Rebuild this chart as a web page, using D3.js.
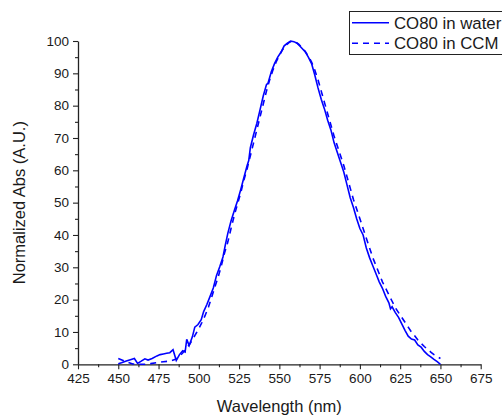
<!DOCTYPE html>
<html>
<head>
<meta charset="utf-8">
<script src="https://cdn.jsdelivr.net/npm/d3@7"></script>
<style>
  html, body { margin: 0; padding: 0; background: #fff; }
  svg { display: block; font-family: Arial, "Liberation Sans", sans-serif; }
</style>
</head>
<body>
<svg id="chart" width="502" height="420"></svg>
<script>
// ---- Data ----
const seriesNames = ["CO80 in water", "CO80 in CCM"];

const waterWl  = [450,452,455,458,460,462,464,466.5,468.5,471,474,476,478,480,482,484,486,488,490,491.5,492.5,494,496,497.5,499.5,501.5,503,505,507,509,511,513,515,516.5,518,520,522,524,526,528,530,531,532,534,536,538,540,542,543,545,547,549,551,553,555,557,559,561,563,566,568,570,572,574,576,578,580,582,584,586,588,590,592,594,596,598,600,602,604,606,608,610,612,614,616,618,619,620,622,624,626,628,630,632,634,636,638,640,642,644,646,648,650];
const waterAbs = [0.2,0.5,1.0,1.5,1.8,0.3,0.9,1.7,1.3,1.8,2.6,3.0,3.2,3.4,3.6,4.5,1.2,3.0,4.2,3.8,7.7,5.8,8.5,11.5,12.3,13.8,16.3,18.5,21,23.6,27.5,30.2,33.2,37,40.5,44.3,47.5,50.5,54,57.8,61.5,63,67,71,74.5,78.7,83,86.5,87,90.5,93,95,96.5,98.5,99.3,100,99.8,99.3,98.3,96.7,95,93,89.5,85.5,82,79,75.5,72.5,68.5,65.5,62.5,59.5,55.5,51.5,48.5,45,42,40,36,33,30.5,28,25.5,23.5,21,19,17.2,17.8,16,14.5,12.5,10.5,8.7,7.8,7.5,6,5.3,4,3,2.3,1.5,0.8,0];

const ccmWl  = [450,453,456,459,462,466,470,474,478,482,486,488,490,492,494,496,498,500,502,504,506,508,510,512,514,516,518,520,522,524,526,528,530,532,534,536,538,540,542,544,546,548,550,552,554,556,558,560,562,564,566,568,570,572,574,576,578,580,582,584,586,588,590,592,594,596,598,600,602,604,606,608,610,612,614,616,618,620,622,624,626,628,630,632,634,636,638,640,642,644,646,648,650];
const ccmAbs = [1.8,1.2,0.6,0.1,0,0,0.2,0.5,0.8,1.0,1.6,2.5,3.5,4.8,6.0,7.5,9.3,11,13,15.2,17.7,20.8,24,27,30.5,34.5,37.8,42,46,49.5,53,57,60.5,64.5,68.5,72.5,76.5,80.5,84.5,88,91,93.5,95.5,97.3,98.6,99.5,100,99.7,99,98,96.8,95.3,93.5,91,88,84.5,81,77.5,74,70.5,67.5,64.5,61.5,58,54.5,51,48,45,42,39,36,33,30.5,28,25.5,23.5,21.5,19.5,17.5,16,14.5,13,11.5,10,8.8,7.5,6.5,5.5,4.6,3.8,3.0,2.4,1.8];

const xTicks = [425,450,475,500,525,550,575,600,625,650,675];
const yTicks = [0,10,20,30,40,50,60,70,80,90,100];
const xMinor = [437.5,462.5,487.5,512.5,537.5,562.5,587.5,612.5,637.5,662.5];
const yMinor = [5,15,25,35,45,55,65,75,85,95];

// ---- Layout ----
const svg = d3.select("#chart");
const mLeft = 78, mRight = 480.7, mTop = 41, mBottom = 364.3;
const axisColor = "#222";
const textColor = "#1a1a1a";
const lineColor = "#0000ff";
const dash = "6,5";

const x = d3.scaleLinear().domain([425, 675]).range([mLeft, mRight]);
const y = d3.scaleLinear().domain([0, 100]).range([mBottom, mTop]);

// Axes
const xAxis = svg.append("g").attr("transform", `translate(0,${mBottom})`)
  .call(d3.axisBottom(x).tickValues(xTicks).tickSize(5).tickSizeOuter(0).tickPadding(4));
const xAxisMinor = svg.append("g").attr("transform", `translate(0,${mBottom})`)
  .call(d3.axisBottom(x).tickValues(xMinor).tickSize(3).tickFormat("").tickSizeOuter(0));
const yAxis = svg.append("g").attr("transform", `translate(${mLeft},0)`)
  .call(d3.axisLeft(y).tickValues(yTicks).tickSize(5).tickSizeOuter(0).tickPadding(4));
const yAxisMinor = svg.append("g").attr("transform", `translate(${mLeft},0)`)
  .call(d3.axisLeft(y).tickValues(yMinor).tickSize(3).tickFormat("").tickSizeOuter(0));

[xAxis, xAxisMinor, yAxis, yAxisMinor].forEach(g => {
  g.selectAll("path.domain").attr("stroke", axisColor).attr("stroke-width", 1.3);
  g.selectAll(".tick line").attr("stroke", axisColor).attr("stroke-width", 1.1);
  g.selectAll(".tick text").attr("fill", textColor).style("font-size", "13.5px")
    .style("font-family", "Arial, 'Liberation Sans', sans-serif");
});
xAxisMinor.select("path.domain").remove();
yAxisMinor.select("path.domain").remove();

// Axis titles
svg.append("text")
  .attr("x", (mLeft + mRight) / 2).attr("y", 412)
  .attr("text-anchor", "middle").attr("fill", textColor)
  .style("font-size", "16.5px").text("Wavelength (nm)");
svg.append("text")
  .attr("transform", `translate(25,${(mTop + mBottom) / 2}) rotate(-90)`)
  .attr("text-anchor", "middle").attr("fill", textColor)
  .style("font-size", "16.5px").text("Normalized Abs (A.U.)");

// Lines
const line = d3.line().x(d => x(d[0])).y(d => y(d[1]));
const waterData = d3.zip(waterWl, waterAbs);
const ccmData = d3.zip(ccmWl, ccmAbs);

svg.append("path").datum(ccmData)
  .attr("fill", "none").attr("stroke", lineColor).attr("stroke-width", 1.6)
  .attr("stroke-dasharray", dash).attr("d", line);
svg.append("path").datum(waterData)
  .attr("fill", "none").attr("stroke", lineColor).attr("stroke-width", 1.6)
  .attr("d", line);

// Legend
const lg = svg.append("g");
lg.append("rect").attr("x", 349.5).attr("y", 11.5).attr("width", 160).attr("height", 43)
  .attr("fill", "#fff").attr("stroke", axisColor).attr("stroke-width", 1);
const rowsY = [22.7, 43.3];
seriesNames.forEach((name, i) => {
  lg.append("line").attr("x1", 352).attr("x2", 389).attr("y1", rowsY[i]).attr("y2", rowsY[i])
    .attr("stroke", lineColor).attr("stroke-width", 1.6)
    .attr("stroke-dasharray", i === 1 ? dash : null);
  lg.append("text").attr("x", 394).attr("y", rowsY[i] + 6)
    .attr("fill", textColor).style("font-size", "16.8px").text(name);
});
</script>
</body>
</html>
